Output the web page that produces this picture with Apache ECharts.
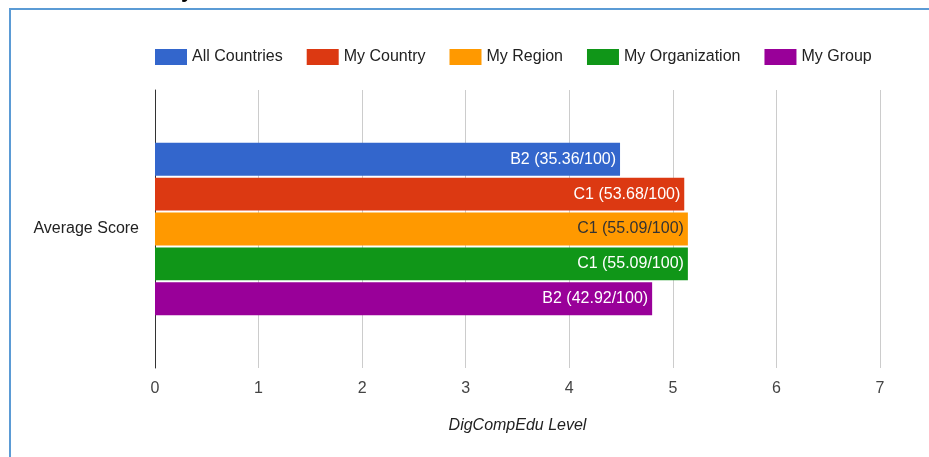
<!DOCTYPE html>
<html>
<head>
<meta charset="utf-8">
<script src="https://cdn.jsdelivr.net/npm/echarts@6/dist/echarts.min.js"></script>
<style>
  html, body { margin: 0; padding: 0; background: #fff; }
  #chart { width: 929px; height: 457px; }
</style>
</head>
<body>
<div id="chart"></div>
<script>
// data
var categories = ['Average Score'];
var seriesNames = ['All Countries', 'My Country', 'My Region', 'My Organization', 'My Group'];
var levels = [4.49, 5.11, 5.145, 5.145, 4.80];
var levelLabels = ['B2 (35.36/100)', 'C1 (53.68/100)', 'C1 (55.09/100)', 'C1 (55.09/100)', 'B2 (42.92/100)'];
var xTicks = [0, 7, 1]; // min, max, step

var colors = ['#3366cc', '#dc3912', '#ff9900', '#109618', '#990099'];
var labelColors = ['#fff', '#fff', '#333', '#fff', '#fff'];
var font = 'Arial, "Liberation Sans", sans-serif';

var chart = echarts.init(document.getElementById('chart'));

var series = seriesNames.map(function (name, i) {
  return {
    name: name,
    type: 'bar',
    data: [levels[i]],
    barGap: '6%',
    barCategoryGap: '38%',
    itemStyle: { color: colors[i] },
    label: {
      show: true,
      position: 'insideRight',
      distance: 4,
      color: labelColors[i],
      fontSize: 16,
      fontFamily: font,
      formatter: function () { return levelLabels[i]; }
    },
    emphasis: { disabled: true }
  };
});

chart.setOption({
  animation: false,
  color: colors,
  textStyle: { fontFamily: font },
  legend: {
    top: 44,
    left: 150,
    itemWidth: 32,
    itemHeight: 16,
    itemGap: 24,
    icon: 'rect',
    textStyle: { fontSize: 16, color: '#222', fontFamily: font },
    data: seriesNames
  },
  grid: { left: 155, right: 49, top: 90, bottom: 89 },
  xAxis: {
    type: 'value',
    min: xTicks[0],
    max: xTicks[1],
    interval: xTicks[2],
    name: 'DigCompEdu Level',
    nameLocation: 'middle',
    nameGap: 50,
    nameTextStyle: { fontStyle: 'italic', fontSize: 16, color: '#222', fontFamily: font },
    axisLine: { show: false },
    axisTick: { show: false },
    axisLabel: { fontSize: 16, color: '#444', margin: 13, fontFamily: font },
    splitLine: { lineStyle: { color: '#cccccc', width: 1 } }
  },
  yAxis: {
    type: 'category',
    inverse: true,
    data: categories,
    axisLine: { show: true, lineStyle: { color: '#333', width: 1 } },
    axisTick: { show: false },
    axisLabel: { fontSize: 16, color: '#222', margin: 16, fontFamily: font },
    splitLine: { show: false }
  },
  graphic: [
    { type: 'rect', shape: { x: 9, y: 8, width: 2, height: 449 }, style: { fill: '#5b9bd5' }, silent: true },
    { type: 'rect', shape: { x: 9, y: 8, width: 920, height: 2 }, style: { fill: '#5b9bd5' }, silent: true },
    { type: 'text', left: 181, top: -20, style: { text: 'y', font: 'bold 22px ' + font, fill: '#000' }, silent: true }
  ],
  series: series
});
</script>
</body>
</html>
